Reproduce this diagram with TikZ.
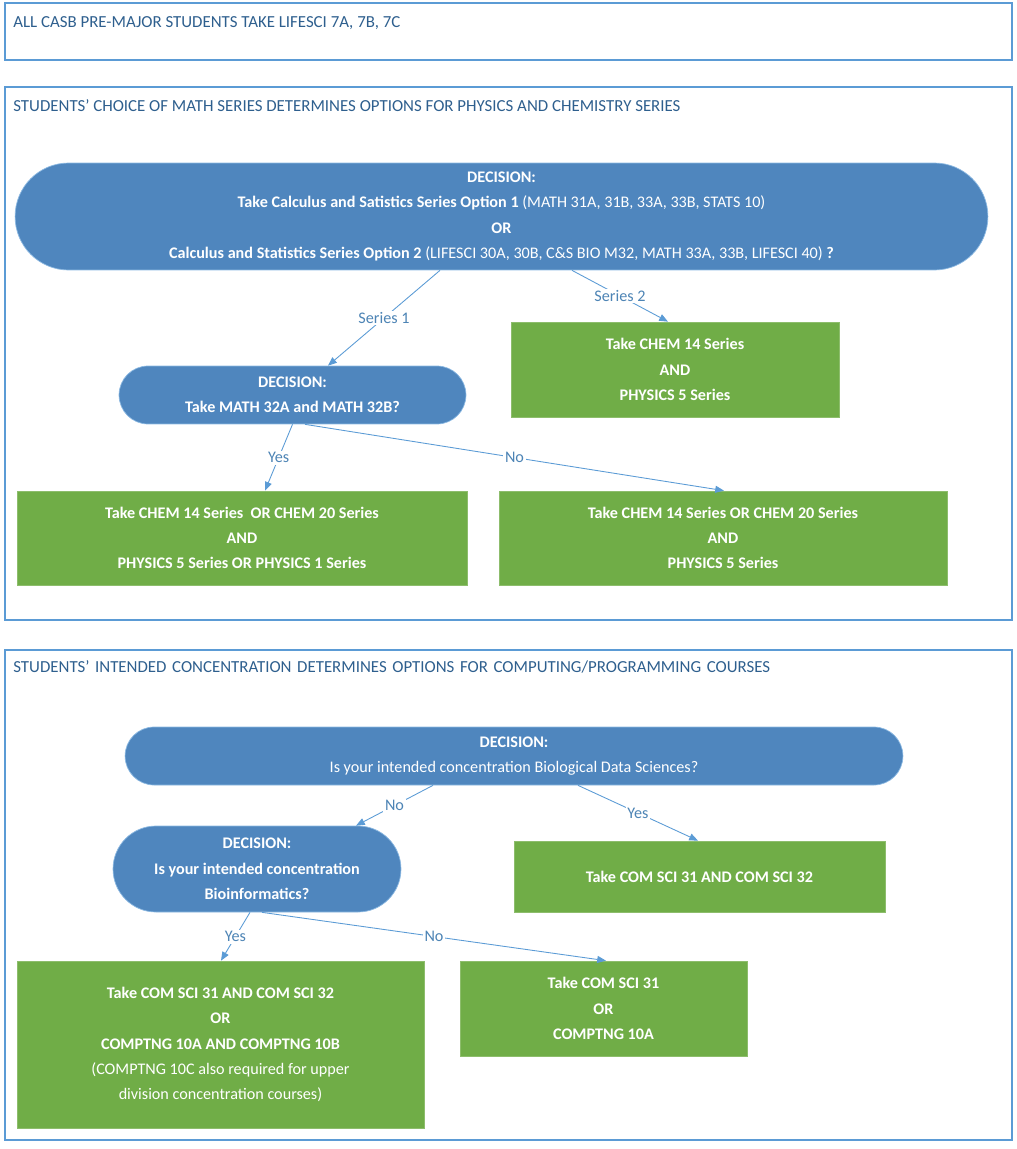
\documentclass[tikz,border=0pt]{standalone}
\usepackage{fontspec}
\setmainfont{Carlito}
\usetikzlibrary{arrows.meta,calc}
\definecolor{frameblue}{HTML}{5B9BD5}
\definecolor{titleblue}{HTML}{2E5F8E}
\definecolor{decblue}{HTML}{4F86BE}
\definecolor{optgreen}{HTML}{70AD47}
\tikzset{
  sect/.style={draw=frameblue,line width=0.6pt},
  sectitle/.style={anchor=north west,text=titleblue,font=\fontsize{9.6}{12.6}\selectfont,inner sep=0pt,align=left},
  decision/.style={fill=decblue,draw=frameblue!70!white,text=white,align=center,
    font=\fontsize{9.2}{14.4}\selectfont,inner sep=0pt},
  option/.style={fill=optgreen,draw=optgreen!80!white,text=white,align=center,
    font=\fontsize{9.2}{14.4}\selectfont,inner sep=0pt},
  flow/.style={draw=frameblue,line width=0.5pt,-{Triangle[length=5pt,width=4pt]}},
  flowlabel/.style={fill=white,text=frameblue!85!black,font=\fontsize{9.2}{11}\selectfont,inner sep=1pt}
}
\begin{document}
\begin{tikzpicture}[x=0.02cm,y=-0.02cm]
\useasboundingbox (0,0) rectangle (1017,1149);
% sections
\draw[sect] (5,3) rectangle (1012,60);
\node[sectitle] (t1) at (13,16) {ALL CASB PRE-MAJOR STUDENTS TAKE LIFESCI 7A, 7B, 7C};
\draw[sect] (5,87) rectangle (1012,620);
\node[sectitle] (t2) at (13,99) {STUDENTS’ CHOICE OF MATH SERIES DETERMINES OPTIONS FOR PHYSICS AND CHEMISTRY SERIES};
\draw[sect] (5,650) rectangle (1012,1140);
\node[sectitle,text width=19.3cm] (t3) at (13,660) {STUDENTS’ INTENDED CONCENTRATION DETERMINES OPTIONS FOR COMPUTING/PROGRAMMING COURSES};
% math series
\node[decision,minimum width=19.46cm,minimum height=2.14cm,rounded corners=1.07cm] (mathdec) at (501.5,216.5)
  {\textbf{DECISION:}\\ \textbf{Take Calculus and Satistics Series Option 1} (MATH 31A, 31B, 33A, 33B, STATS 10)\\
   \textbf{OR}\\ \textbf{Calculus and Statistics Series Option 2} (LIFESCI 30A, 30B, C\&S BIO M32, MATH 33A, 33B, LIFESCI 40) \textbf{?}};
\node[option,minimum width=6.56cm,minimum height=1.9cm] (series2) at (675,369.5)
  {\textbf{Take CHEM 14 Series}\\ \textbf{AND}\\ \textbf{PHYSICS 5 Series}};
\node[decision,minimum width=6.94cm,minimum height=1.16cm,rounded corners=0.58cm] (calcdec) at (292.5,395)
  {\textbf{DECISION:}\\ \textbf{Take MATH 32A and MATH 32B?}};
\node[option,minimum width=9cm,minimum height=1.88cm] (calcyes) at (242,538)
  {\textbf{Take CHEM 14 Series\ \ OR CHEM 20 Series}\\ \textbf{AND}\\ \textbf{PHYSICS 5 Series OR PHYSICS 1 Series}};
\node[option,minimum width=8.96cm,minimum height=1.88cm] (calcno) at (723,538)
  {\textbf{Take CHEM 14 Series OR CHEM 20 Series}\\ \textbf{AND}\\ \textbf{PHYSICS 5 Series}};
\draw[flow] ([xshift=-1.23cm]mathdec.south) -- node[flowlabel] {Series 1} ([xshift=0.71cm]calcdec.north);
\draw[flow] ([xshift=1.41cm]mathdec.south) -- node[flowlabel] {Series 2} ([xshift=-0.14cm]series2.north);
\draw[flow] ([xshift=0cm]calcdec.south) -- node[flowlabel] {Yes} ([xshift=0.46cm]calcyes.north);
\draw[flow] ([xshift=0.25cm]calcdec.south) -- node[flowlabel] {No} ([xshift=0.02cm]calcno.north);
% computing courses
\node[decision,minimum width=15.56cm,minimum height=1.16cm,rounded corners=0.58cm] (bdsdec) at (514,756)
  {\textbf{DECISION:}\\ Is your intended concentration Biological Data Sciences?};
\node[decision,minimum width=5.76cm,minimum height=1.72cm,rounded corners=0.86cm] (biodec) at (257,869)
  {\textbf{DECISION:}\\ \textbf{Is your intended concentration}\\ \textbf{Bioinformatics?}};
\node[option,minimum width=7.42cm,minimum height=1.42cm] (bdsyes) at (699.5,876.5)
  {\textbf{Take COM SCI 31 AND COM SCI 32}};
\node[option,minimum width=8.14cm,minimum height=3.34cm] (bioyes) at (220.5,1044.5)
  {\textbf{Take COM SCI 31 AND COM SCI 32}\\ \textbf{OR}\\ \textbf{COMPTNG 10A AND COMPTNG 10B}\\
   (COMPTNG 10C also required for upper\\ division concentration courses)};
\node[option,minimum width=5.74cm,minimum height=1.9cm] (biono) at (603.5,1008.5)
  {\textbf{Take COM SCI 31}\\ \textbf{OR}\\ \textbf{COMPTNG 10A}};
\draw[flow] ([xshift=-1.62cm]bdsdec.south) -- node[flowlabel] {No} ([xshift=1.98cm]biodec.north);
\draw[flow] ([xshift=1.28cm]bdsdec.south) -- node[flowlabel] {Yes} ([xshift=-0.03cm]bdsyes.north);
\draw[flow] ([xshift=-0.14cm]biodec.south) -- node[flowlabel] {Yes} ([xshift=0.01cm]bioyes.north);
\draw[flow] ([xshift=0.1cm]biodec.south) -- node[flowlabel] {No} ([xshift=0.05cm]biono.north);
\end{tikzpicture}
\end{document}
